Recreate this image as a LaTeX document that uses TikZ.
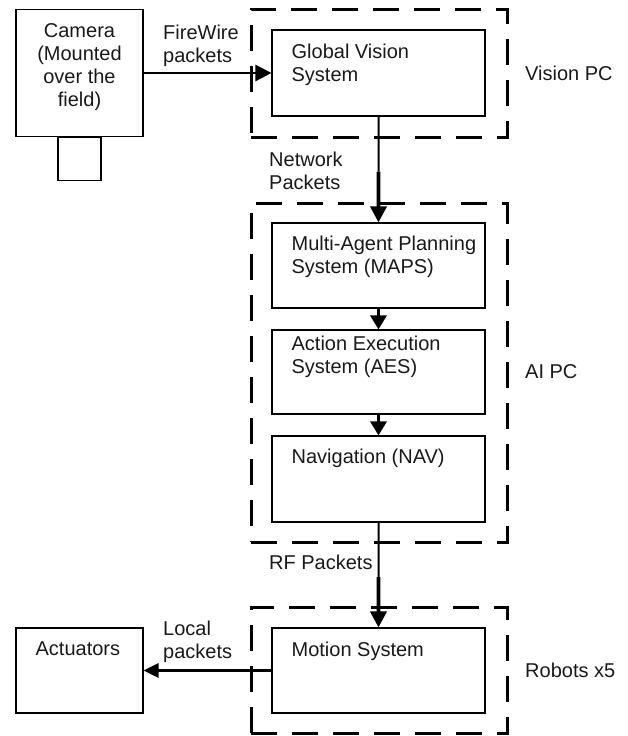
\documentclass[tikz,border=0pt]{standalone}
\usepackage{fontspec}
\setmainfont{Liberation Sans}
\usetikzlibrary{arrows.meta,calc}

\tikzset{
  x=1pt, y=1pt,
  every node/.style={font=\fontsize{20}{23}\selectfont, text=black!90},
  block/.style={draw, line width=1.1pt, minimum width=213pt, minimum height=85pt, inner sep=0pt},
  group/.style={draw, line width=3pt, dash pattern=on 26pt off 15pt, minimum width=256pt, inner sep=0pt},
  txt/.style={anchor=north west, inner sep=0pt, align=left},
  head/.style={-{Triangle[length=16pt,width=16pt]}},
  flow/.style={line width=2.5pt, head},
  wire/.style={line width=2pt},
  heavy/.style={line width=3.6pt, head},
  short/.style={line width=3.2pt, -{Triangle[length=14pt,width=16pt]}}
}

\begin{document}
\begin{tikzpicture}
\useasboundingbox (0,0) rectangle (627,-736);

% dashed computer groups
\node[group, minimum height=128pt] (vpc) at (379,-73) {};
\node[group, minimum height=339pt] (aipc) at (379,-372.5) {};
\node[group, minimum height=126pt] (robot) at (379,-670) {};

% camera and its stand
\node[block, minimum width=127pt, minimum height=127pt] (cam) at (79.5,-73) {};
\node[block, minimum width=43pt, minimum height=43pt, anchor=north] (stand) at (cam.south) {};
\node[anchor=north, inner sep=0pt, align=center] (camtxt) at ($(cam.north)+(0,-14.5)$)
  {Camera\\(Mounted\\over the\\field)};

% processing blocks
\node[block, minimum height=86pt] (gvs) at (378.5,-73) {};
\node[block] (maps) at (378.5,-265.5) {};
\node[block, minimum height=84pt] (aes) at (378.5,-372) {};
\node[block, minimum height=86pt] (nav) at (378.5,-479) {};
\node[block] (motion) at (378.5,-670.5) {};
\node[block, minimum width=127pt] (act) at (79.5,-670.5) {};

\node[txt] (gvstxt) at ($(gvs.north west)+(20,-14.5)$) {Global Vision\\System};
\node[txt] (mapstxt) at ($(maps.north west)+(20,-13.5)$) {Multi-Agent Planning\\System (MAPS)};
\node[txt] (aestxt) at ($(aes.north west)+(20,-6.5)$) {Action Execution\\System (AES)};
\node[txt] (navtxt) at ($(nav.north west)+(20,-13.5)$) {Navigation (NAV)};
\node[txt] (motiontxt) at ($(motion.north west)+(20,-14.5)$) {Motion System};
\node[txt] (acttxt) at ($(act.north west)+(20,-14.5)$) {Actuators};

% group names
\node[anchor=west, inner sep=0pt] (vpclbl) at (525,-73) {Vision PC};
\node[anchor=west, inner sep=0pt] (aipclbl) at (525,-372) {AI PC};
\node[anchor=west, inner sep=0pt] (robotlbl) at (525,-670) {Robots x5};

% data flow
\draw[flow] (cam.east) -- (gvs.west);

% network link: thin from the vision PC, heavier into the AI PC
\coordinate (netmid) at ($(gvs.south)!0.52!(maps.north)$);
\draw[wire] (gvs.south) -- (netmid);
\draw[heavy] (netmid) -- (maps.north);

\draw[short] (maps.south) -- (aes.north);
\draw[short] (aes.south) -- (nav.north);

% radio link to the robots
\coordinate (rfmid) at ($(nav.south)!0.52!(motion.north)$);
\draw[wire] (nav.south) -- (rfmid);
\draw[heavy] (rfmid) -- (motion.north);

\draw[line width=2.8pt, -{Triangle[length=15pt,width=14pt]}] (motion.west) -- (act.east |- motion.west);

% connector labels
\node[txt] (fwlbl) at (163,-24.5) {FireWire\\packets};
\node[txt] (netlbl) at (269,-151.5) {Network\\Packets};
\node[txt] (rflbl) at (269,-554.5) {RF Packets};
\node[txt] (loclbl) at (163,-620.5) {Local\\packets};
\end{tikzpicture}
\end{document}
